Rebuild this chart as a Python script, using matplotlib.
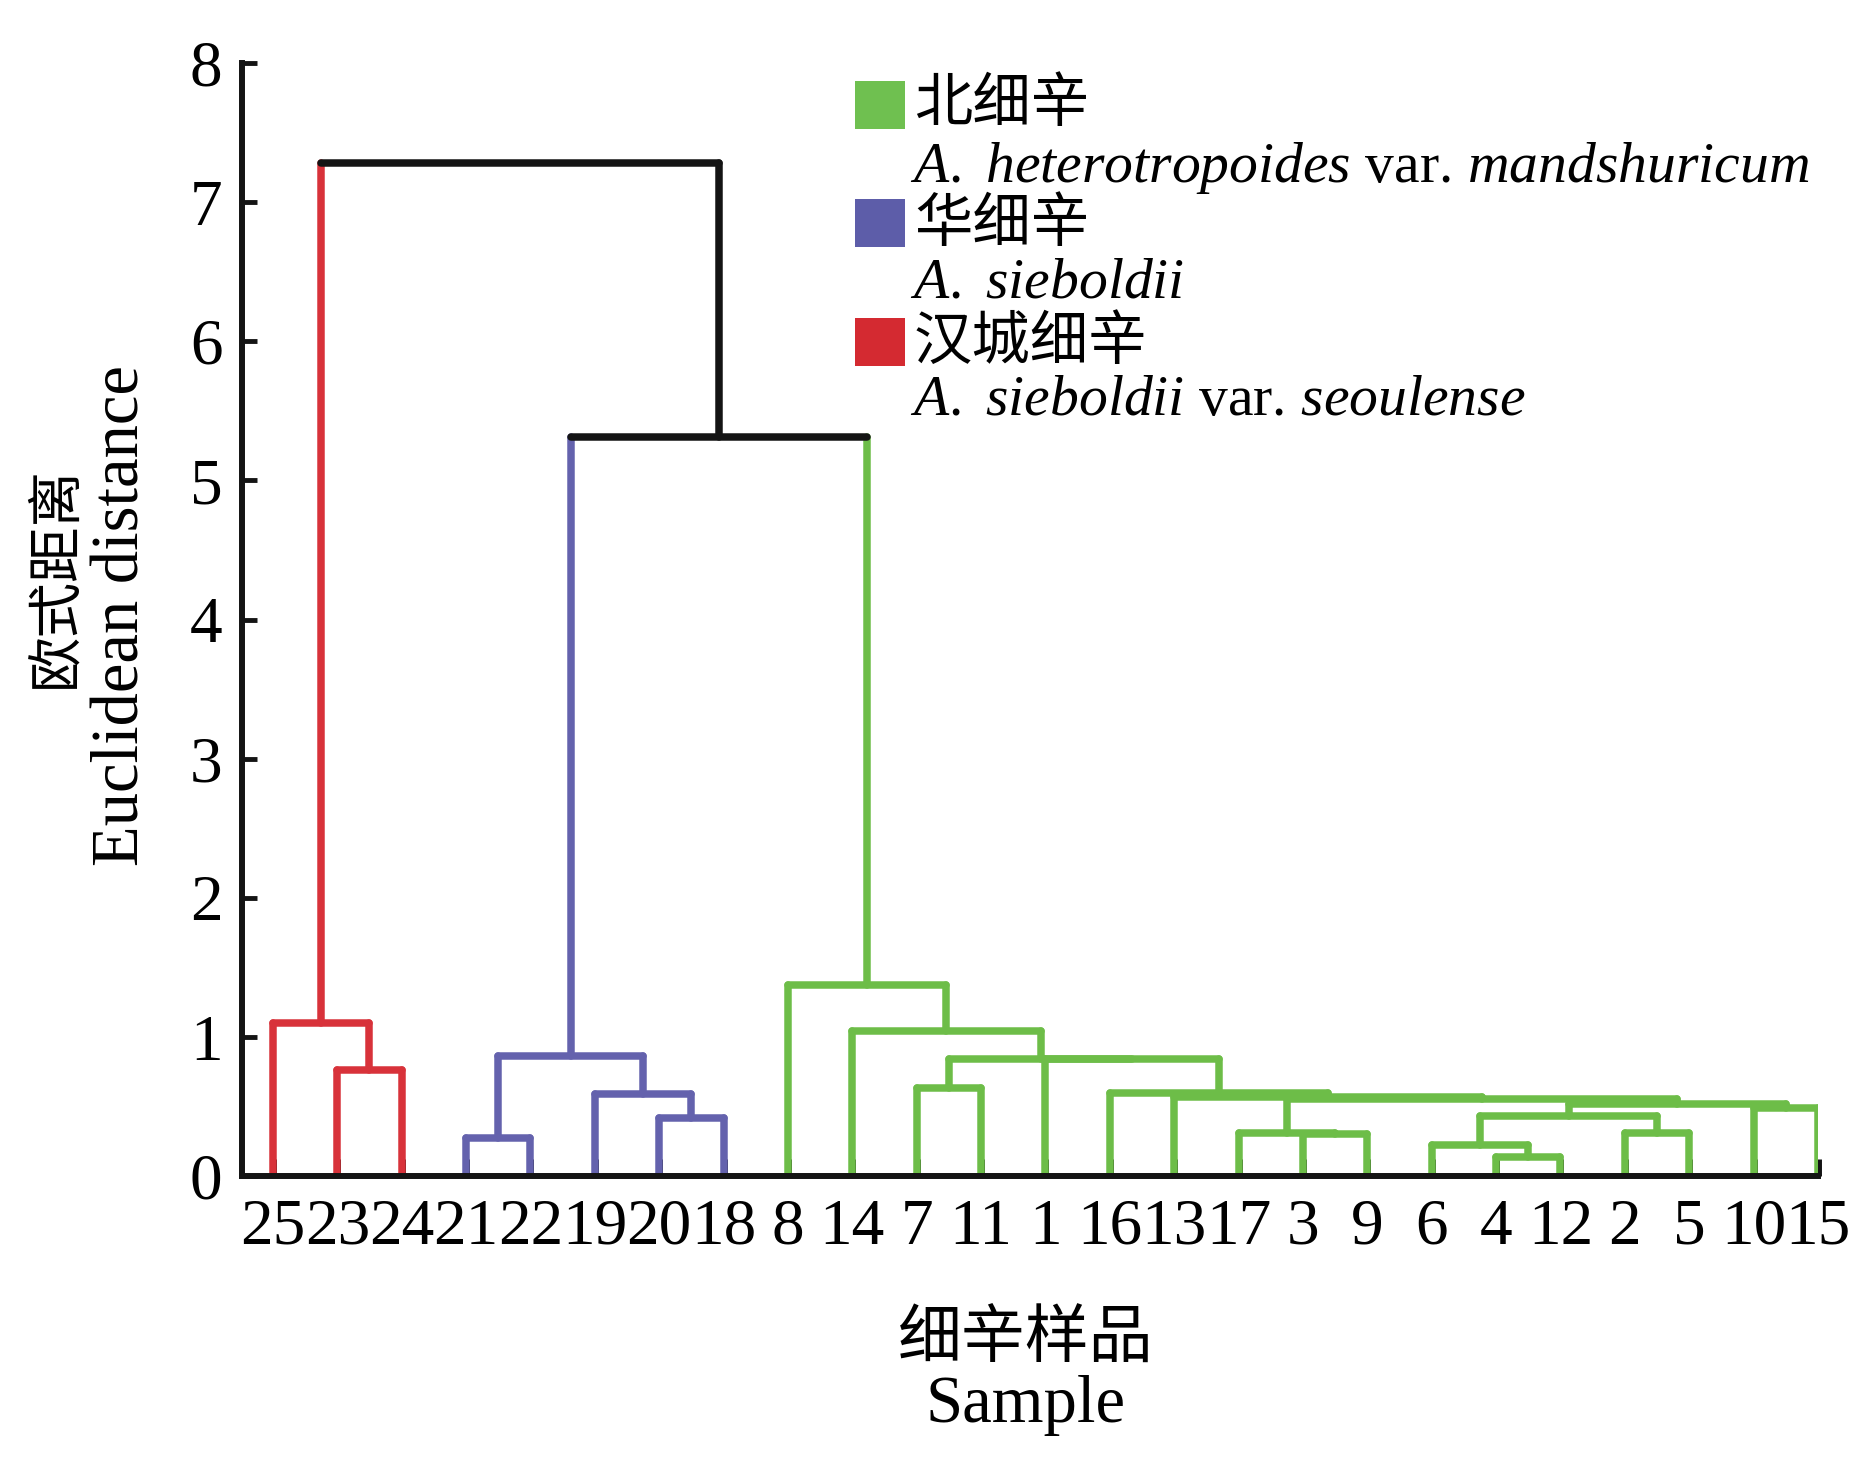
import matplotlib
matplotlib.use('Agg')
import matplotlib.pyplot as plt
from matplotlib.patches import Rectangle

plt.rcParams['mathtext.fontset'] = 'custom'
plt.rcParams['mathtext.rm'] = 'Liberation Serif'
plt.rcParams['mathtext.it'] = 'Liberation Serif:italic'

# leaf order along the x axis
leaf_labels = [25, 23, 24, 21, 22, 19, 20, 18, 8, 14, 7, 11, 1, 16, 13, 17, 3, 9, 6, 4, 12, 2, 5, 10, 15]

# merges: (node, left child, right child, height)
red_merges = [('r1', 23, 24, 0.76), ('r2', 25, 'r1', 1.10)]
blue_merges = [('b1', 21, 22, 0.27), ('b2', 20, 18, 0.42),
               ('b3', 19, 'b2', 0.59), ('b4', 'b1', 'b3', 0.86)]
green_merges = [('g1', 4, 12, 0.14), ('g2', 6, 'g1', 0.22), ('g3', 2, 5, 0.31),
                ('g4', 'g2', 'g3', 0.43), ('g5', 10, 15, 0.49), ('g6', 'g4', 'g5', 0.52),
                ('g7', 3, 9, 0.30), ('g8', 17, 'g7', 0.31), ('g9', 'g8', 'g6', 0.55),
                ('g10', 13, 'g9', 0.565), ('g11', 16, 'g10', 0.60), ('g12', 7, 11, 0.63),
                ('g13', 1, 'g11', 0.84), ('g14', 'g12', 'g13', 0.84), ('g15', 14, 'g14', 1.04),
                ('g16', 8, 'g15', 1.37)]
top_merges = [('k1', 'b4', 'g16', 5.31), ('k2', 'r2', 'k1', 7.28)]

red = '#d8323a'
blue = '#6462ad'
green = '#6dbd48'
black = '#141414'

legend_cn = ['北细辛', '华细辛', '汉城细辛']
legend_latin = [r'$\mathit{A.}$ $\mathit{heterotropoides}$ var. $\mathit{mandshuricum}$',
                r'$\mathit{A.}$ $\mathit{sieboldii}$',
                r'$\mathit{A.}$ $\mathit{sieboldii}$ var. $\mathit{seoulense}$']
legend_colors = ['#6fc050', '#5d5da9', '#d42a31']

W, H = 1866, 1465
fig = plt.figure(figsize=(W / 100, H / 100), dpi=100)
ax = fig.add_axes([242 / W, 1 - 1176 / H, (1818 - 242) / W, (1176 - 63) / H])

pos = {lab: i + 1 for i, lab in enumerate(leaf_labels)}
hgt = {lab: 0.0 for lab in leaf_labels}
col = {}

lw = 5.4
for merges, c in [(red_merges, red), (blue_merges, blue), (green_merges, green), (top_merges, black)]:
    for node, a, b, h in merges:
        for child in (a, b):
            cc = col.get(child, c)
            ax.plot([pos[child], pos[child]], [hgt[child], h], color=cc, lw=lw,
                    solid_capstyle='round', zorder=2)
        ax.plot([pos[a], pos[b]], [h, h], color=c, lw=lw, solid_capstyle='round', zorder=2)
        pos[node] = (pos[a] + pos[b]) / 2
        hgt[node] = h
        col[node] = c

ax.set_xlim(0.52, 25)
ax.set_ylim(0, 8)
ax.set_xticks(range(1, 26))
ax.set_xticklabels([str(v) for v in leaf_labels])
ax.set_yticks(range(0, 9))
for s in ['top', 'right']:
    ax.spines[s].set_visible(False)
for s in ['left', 'bottom']:
    ax.spines[s].set_linewidth(4.3)
    ax.spines[s].set_color(black)
ax.tick_params(axis='x', direction='in', length=12, width=5, color=black, pad=16)
ax.tick_params(axis='y', direction='in', length=11, width=3.5, color=black, pad=14)
for t in ax.get_xticklabels() + ax.get_yticklabels():
    t.set_fontfamily('Liberation Serif')
    t.set_fontsize(47)

cn = ['Noto Sans CJK SC']
# axis titles
fig.text(56 / W, 1 - 577 / H, '欧式距离', family=cn, fontsize=40, rotation=90,
         ha='center', va='center')
fig.text(122 / W, 1 - 616 / H, 'Euclidean distance', family='Liberation Serif', fontsize=48,
         rotation=90, ha='center', va='center')
fig.text(1026 / W, 1 - 1340 / H, '细辛样品', family=cn, fontsize=46, ha='center', va='center')
fig.text(1025 / W, 1 - 1405 / H, 'Sample', family='Liberation Serif', fontsize=48,
         ha='center', va='center')

# legend
sq_top = [81, 199, 318]
cn_y = [105, 224, 342]
latin_base = [182, 297, 415]
for i in range(3):
    fig.add_artist(Rectangle((855 / W, 1 - (sq_top[i] + 48) / H), 50 / W, 48 / H,
                             transform=fig.transFigure, color=legend_colors[i], lw=0))
    fig.text(914 / W, 1 - cn_y[i] / H, legend_cn[i], family=cn, fontsize=42,
             ha='left', va='center')
    fig.text(910 / W, 1 - latin_base[i] / H, legend_latin[i], family='Liberation Serif',
             fontsize=41.5, ha='left', va='baseline')

fig.savefig('out.png', dpi=100)
